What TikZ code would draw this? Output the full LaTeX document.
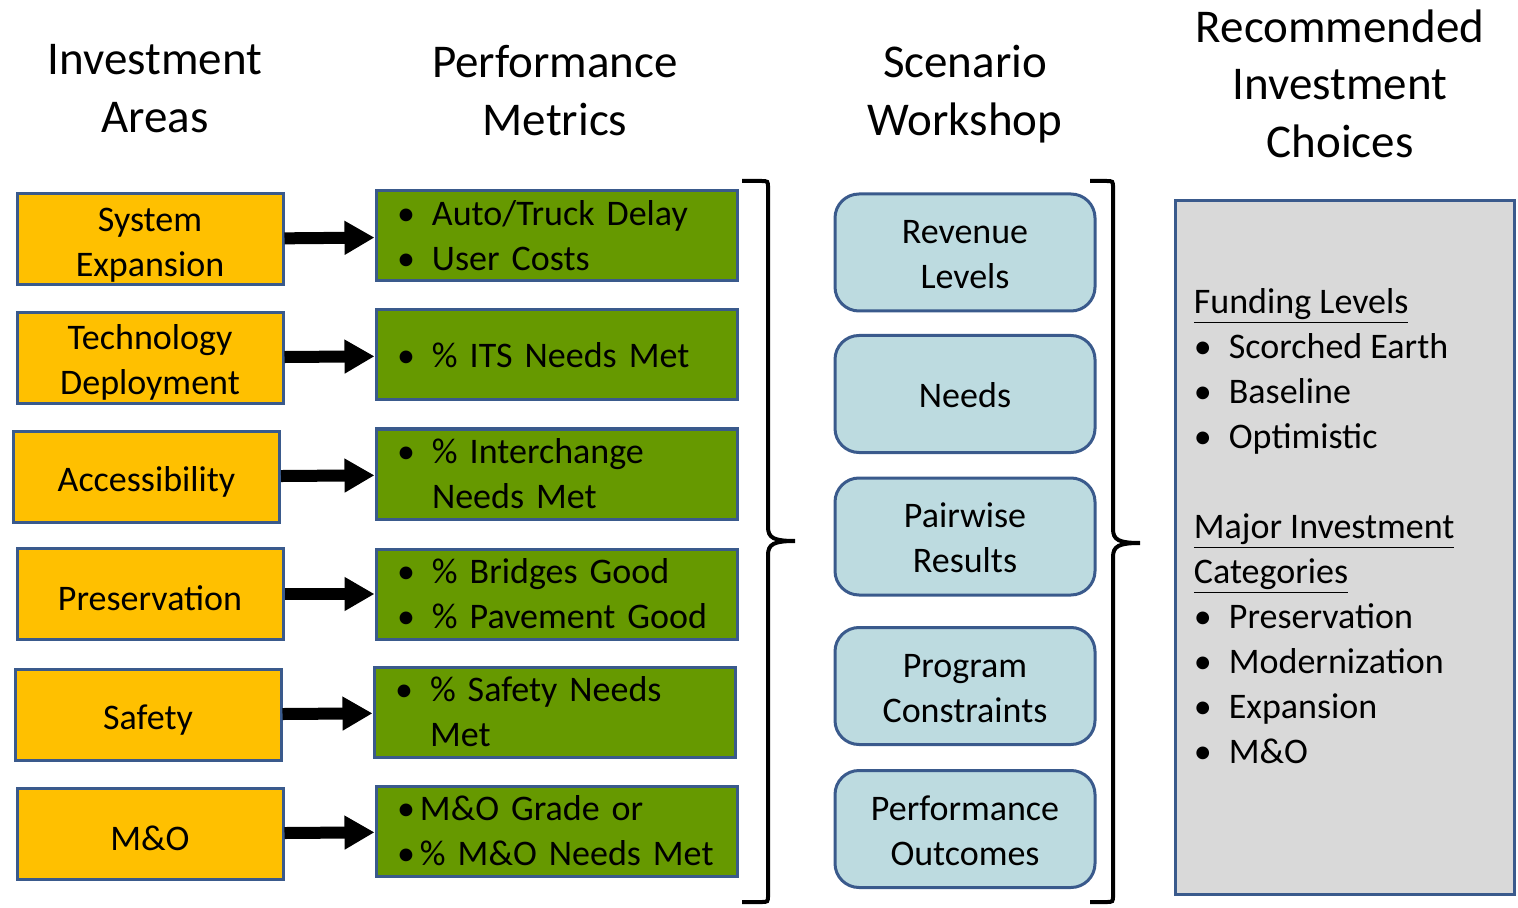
\documentclass[tikz,border=0pt]{standalone}
\usepackage{fontspec}
\setmainfont{Carlito}
\usepackage{tikz}
\usetikzlibrary{arrows.meta}
\usetikzlibrary{math}
\usetikzlibrary{positioning}

\definecolor{AreaOrange}{HTML}{FFC000}
\definecolor{MetricGreen}{HTML}{669900}
\definecolor{WorkshopBlue}{HTML}{BDDBE0}
\definecolor{ChoiceGray}{HTML}{D9D9D9}
\definecolor{EdgeBlue}{HTML}{3A5A8C}

\newcommand{\BodyFont}{\fontsize{18}{22.5}\selectfont}
\newcommand{\HeadFont}{\fontsize{23.5}{28.75}\selectfont}
\newcommand{\Bul}[2][17.5pt]{\makebox[#1][l]{\textbullet}#2}

\begin{document}
\begin{tikzpicture}[x=0.5pt,y=-0.5pt,
	area/.style={draw=EdgeBlue,line width=1.5pt,fill=AreaOrange,minimum width=133pt,minimum height=45.5pt,inner sep=0pt,align=center,font=\BodyFont},
	metric/.style={draw=EdgeBlue,line width=1.5pt,fill=MetricGreen,minimum height=45pt,inner xsep=10.5pt,inner ysep=0pt,text width=159.5pt,align=left,font=\BodyFont},
	workshop/.style={draw=EdgeBlue,line width=1.5pt,fill=WorkshopBlue,rounded corners=12pt,minimum width=130pt,minimum height=58.5pt,inner sep=0pt,align=center,font=\BodyFont},
	header/.style={align=center,inner sep=0pt,font=\HeadFont},
	link/.style={line width=6pt,-{Triangle[length=15pt,width=16pt]}},
	bracket/.style={line width=2pt},
	]
	\useasboundingbox (0,0) rectangle (1518,908);
	
	% column headers
	\node[header] (HeadAreas) at (155,88.5) {Investment\\Areas};
	\node[header] (HeadMetrics) at (555,90.5) {Performance\\Metrics};
	\node[header] (HeadWorkshop) at (965,94) {Scenario\\Workshop};
	\node[header] (HeadChoices) at (1340,83.5) {Recommended\\Investment\\Choices};
	
	\foreach \i/\x/\y/\txt in {1/150/239.5/{System\\Expansion}, 2/150/358/{Technology\\Deployment}, 3/146.5/477/Accessibility, 4/150/594/Preservation, 5/148/715/Safety, 6/150/834/M\&O}
		\node[area] (Area\i) at (\x,\y) {\rule{0pt}{17pt}\txt};
	
	\foreach \i/\x/\y/\txt in {1/556.5/236/{\Bul{Auto/Truck Delay}\\\Bul{User Costs}},
		2/556.5/355/{\Bul{\% ITS Needs Met}},
		3/556.5/474/{\Bul{\% Interchange}\\\hspace*{17.5pt}Needs Met},
		4/556.5/594/{\Bul{\% Bridges Good}\\\Bul{\% Pavement Good}},
		5/554.5/712/{\Bul{\% Safety Needs}\\\hspace*{17.5pt}Met},
		6/556.5/831/{\Bul[11.5pt]{M\&O Grade or}\\\Bul[11.5pt]{\% M\&O Needs Met}}}
		\node[metric] (Metric\i) at (\x,\y) {\txt};
	
	\foreach \i in {1,...,6} \draw[link] (Area\i) -- (Metric\i);
	
	\foreach \i/\y/\txt in {1/252.5/{Revenue\\Levels}, 2/394/Needs, 3/536.5/{Pairwise\\Results}, 4/686/{Program\\Constraints}, 5/829/{Performance\\Outcomes}}
		\node[workshop] (Workshop\i) at (965,\y) {\rule{0pt}{14pt}\txt};
	
	\node[draw=EdgeBlue,line width=1.5pt,fill=ChoiceGray,minimum width=169.5pt,minimum height=346.5pt] (Choices) at (1344.5,547.5) {};
	\node[below right=44.5pt and 10pt of Choices.north west,inner sep=0pt,align=left,font=\BodyFont] (ChoiceList)
		{\underline{Funding Levels}\\\Bul{Scorched Earth}\\\Bul{Baseline}\\\Bul{Optimistic}\\[22.5pt]
		\underline{Major Investment}\\\underline{Categories}\\\Bul{Preservation}\\\Bul{Modernization}\\\Bul{Expansion}\\\Bul{M\&O}};
	
	% brackets
	\tikzmath{\TipLen = 27;}
	\foreach \bx/\by/\bl in {768/541/742, 1113/543/1090}
		\draw[bracket] (\bl,181) -- (\bx-7,181) .. controls (\bx,181) .. (\bx,188) -- (\bx,\by-14)
		.. controls (\bx,\by-3) and (\bx+6,\by) .. (\bx+\TipLen,\by)
		.. controls (\bx+6,\by) and (\bx,\by+3) .. (\bx,\by+14) -- (\bx,895)
		.. controls (\bx,902) .. (\bx-7,902) -- (\bl,902);
\end{tikzpicture}
\end{document}
